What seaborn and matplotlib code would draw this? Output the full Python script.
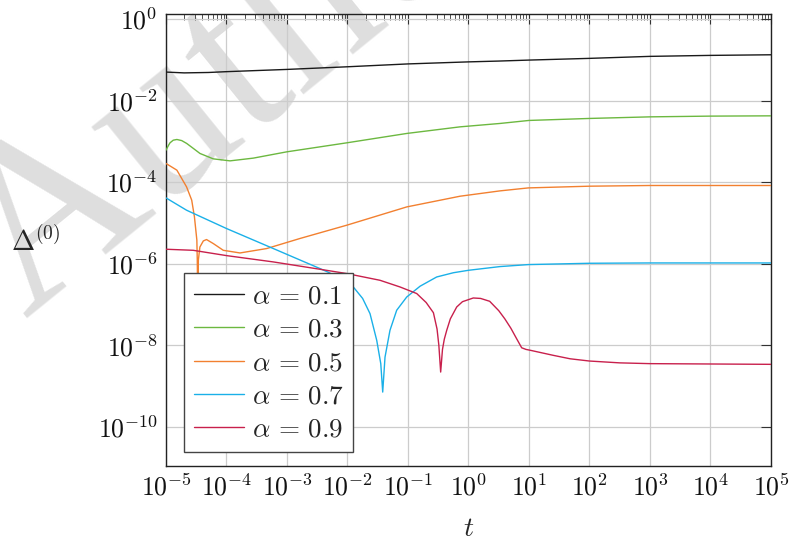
import numpy as np
import pandas as pd
import matplotlib
matplotlib.use("Agg")
import matplotlib.pyplot as plt
import matplotlib.ticker as mticker
import seaborn as sns

# ---- data (log10 t, log10 Delta) ----
alphas = ["0.1", "0.3", "0.5", "0.7", "0.9"]
colors = ["#1a1a1a", "#6cb840", "#f28030", "#1ab0e8", "#c8204c"]

black_logt = [-5, -4.7, -4.3, -4, -3, -2, -1, 0, 0.5, 1, 2, 3, 4, 5]
black_logd = [-1.30, -1.32, -1.31, -1.29, -1.235, -1.17, -1.10, -1.05, -1.03, -1.006,
              -0.964, -0.915, -0.891, -0.876]

green_logt = [-5, -4.96, -4.934, -4.88, -4.82, -4.74, -4.658, -4.55, -4.438, -4.218, -3.942,
              -3.557, -3.005, -2.013, -1.02, -0.14, 0.52, 1.0, 2, 3, 4, 5]
green_logd = [-3.215, -3.10, -3.035, -2.97, -2.953, -2.98, -3.05, -3.17, -3.296, -3.428, -3.477,
              -3.41, -3.256, -3.035, -2.805, -2.643, -2.56, -2.486, -2.437, -2.398, -2.38, -2.373]

orange_logt = [-5, -4.82, -4.66, -4.575, -4.53, -4.49, -4.483, -4.475, -4.465, -4.44, -4.383,
               -4.33, -4.218, -4.053, -3.777, -3.336, -2.785, -2.013, -1.02, -0.14, 0.52, 0.99,
               2, 3, 5]
orange_logd = [-3.541, -3.705, -4.115, -4.44, -4.85, -5.42, -5.91, -7.0, -5.91, -5.59, -5.44,
               -5.406, -5.505, -5.67, -5.735, -5.627, -5.38, -5.055, -4.606, -4.344, -4.213,
               -4.14, -4.098, -4.081, -4.081]

blue_logt = [-5, -4.66, -4, -3.226, -2.455, -2.3, -1.904, -1.75, -1.628, -1.517, -1.45, -1.418,
             -1.38, -1.298, -1.187, -1.021, -0.8, -0.526, -0.25, 0, 0.52, 0.99, 2, 3, 5]
blue_logd = [-4.385, -4.687, -5.136, -5.627, -6.118, -6.22, -6.569, -6.85, -7.222, -7.877, -8.45,
             -9.146, -8.29, -7.632, -7.14, -6.815, -6.55, -6.324, -6.22, -6.16, -6.069, -6.02,
             -5.988, -5.98, -5.98]

red_logt = [-5, -4.55, -4.0, -3.226, -2.455, -2.013, -1.463, -1.13, -0.856, -0.70, -0.58,
            -0.52, -0.49, -0.46, -0.43, -0.40, -0.36, -0.30, -0.195, -0.10, 0.079, 0.2, 0.35,
            0.5, 0.6, 0.7, 0.8, 0.879, 0.95, 1.017, 1.40, 1.68, 2.0, 2.5, 3.0, 5]
red_logd = [-5.644, -5.67, -5.8, -5.955, -6.135, -6.24, -6.405, -6.57, -6.73, -6.95, -7.2,
            -7.6, -8.0, -8.655, -8.1, -7.85, -7.632, -7.35, -7.06, -6.93, -6.839, -6.85, -6.92,
            -7.15, -7.35, -7.58, -7.85, -8.06, -8.1, -8.12, -8.245, -8.33, -8.385, -8.43,
            -8.449, -8.466]

series_t = [black_logt, green_logt, orange_logt, blue_logt, red_logt]
series_d = [black_logd, green_logd, orange_logd, blue_logd, red_logd]

labels = [r"$\alpha\,=\,%s$" % a for a in alphas]
rows = []
for lab, lt, ld in zip(labels, series_t, series_d):
    for x, y in zip(lt, ld):
        rows.append({"t": 10.0 ** x, "D": 10.0 ** y, "alpha": lab})
df = pd.DataFrame(rows)
palette = dict(zip(labels, colors))

# ---- style ----
sns.set_theme(style="white")
plt.rcParams["mathtext.fontset"] = "cm"
plt.rcParams["font.family"] = ["DejaVu Serif"]

fig = plt.figure(figsize=(7.92, 5.43), dpi=100)

# faint watermark behind the plot
wm = fig.text(25 / 792, 1 - 318 / 543, "Author", fontsize=170, family="Liberation Serif",
              rotation=39, rotation_mode="anchor", color="#dedede", ha="left",
              va="baseline")
wm.set_zorder(0)

ax = fig.add_axes([166 / 792, 1 - 466 / 543, (771 - 166) / 792, (466 - 14) / 543])
ax.set_zorder(2)
ax.set_facecolor("none")

sns.lineplot(data=df, x="t", y="D", hue="alpha", hue_order=labels, palette=palette,
             sort=False, estimator=None, linewidth=1.0, ax=ax, zorder=3)

ax.set_xscale("log")
ax.set_yscale("log")
ax.set_xlim(1e-5, 1e5)
ax.set_ylim(1.1e-11, 1.33)

fmt = mticker.FuncFormatter(lambda v, p: r"$10^{%d}$" % int(round(np.log10(v))))
ax.xaxis.set_major_locator(mticker.FixedLocator([10.0 ** k for k in range(-5, 6)]))
ax.xaxis.set_minor_locator(mticker.LogLocator(base=10, subs=np.arange(2, 10), numticks=100))
ax.xaxis.set_major_formatter(fmt)
ax.xaxis.set_minor_formatter(mticker.NullFormatter())
ax.yaxis.set_major_locator(mticker.FixedLocator([10.0 ** k for k in range(-10, 1, 2)]))
ax.yaxis.set_minor_locator(mticker.NullLocator())
ax.yaxis.set_major_formatter(fmt)

ax.tick_params(which="both", direction="in", top=True, right=True, colors="#333333",
               labelcolor="#111111", labelsize=18.5)
ax.tick_params(which="major", length=7, width=0.8, pad=6)
ax.tick_params(which="minor", length=4.5, width=0.6)

ax.grid(True, which="major", color="#cccccc", linewidth=0.9)
for s in ax.spines.values():
    s.set_color("#222222")
    s.set_linewidth(1.0)

ax.set_xlabel(r"$t$", fontsize=20, labelpad=10)
ax.set_ylabel(r"$\Delta^{(0)}$", fontsize=20, rotation=0, va="center", ha="center")
ax.yaxis.set_label_coords(-0.215, 0.496)

leg = ax.legend(loc="lower left", bbox_to_anchor=(0.0298, 0.031), borderaxespad=0,
                fontsize=19.5, frameon=True, fancybox=False, framealpha=1,
                edgecolor="#444444", handlelength=1.85, handletextpad=0.3,
                labelspacing=0.23, borderpad=0.35)
leg.get_frame().set_linewidth(1.0)
for h in leg.get_lines():
    h.set_linewidth(1.0)

fig.savefig("out.png", dpi=100)
